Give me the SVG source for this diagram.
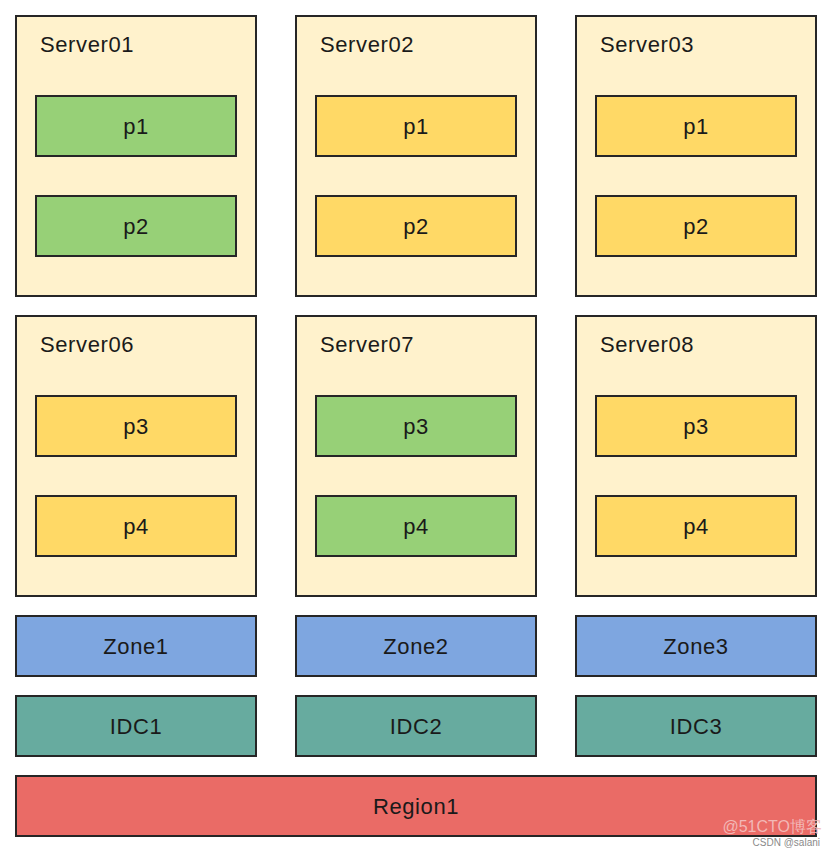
<svg xmlns="http://www.w3.org/2000/svg" width="834" height="854" viewBox="0 0 834 854">
<style>
rect{stroke:#262626;stroke-width:2}
.srv{fill:#fff2cc}
.g{fill:#97d077}
.y{fill:#ffd966}
.z{fill:#7ea6e0}
.i{fill:#67ab9f}
.r{fill:#ea6b66}
text{font-family:"Liberation Sans",Arial,sans-serif;font-size:22px;letter-spacing:0.6px;fill:#1a1a1a}
.c{text-anchor:middle;dominant-baseline:central}
.wm{text-anchor:end;letter-spacing:0}
</style>
<rect x="0" y="0" width="834" height="854" fill="#ffffff" style="stroke:none"/>
<g id="server01"><rect class="srv" x="16" y="16" width="240" height="280"/><text x="40" y="52">Server01</text>
<g id="s01p1"><rect class="g" x="36" y="96" width="200" height="60"/><text class="c" x="136" y="126">p1</text></g>
<g id="s01p2"><rect class="g" x="36" y="196" width="200" height="60"/><text class="c" x="136" y="226">p2</text></g></g>
<g id="server02"><rect class="srv" x="296" y="16" width="240" height="280"/><text x="320" y="52">Server02</text>
<g id="s02p1"><rect class="y" x="316" y="96" width="200" height="60"/><text class="c" x="416" y="126">p1</text></g>
<g id="s02p2"><rect class="y" x="316" y="196" width="200" height="60"/><text class="c" x="416" y="226">p2</text></g></g>
<g id="server03"><rect class="srv" x="576" y="16" width="240" height="280"/><text x="600" y="52">Server03</text>
<g id="s03p1"><rect class="y" x="596" y="96" width="200" height="60"/><text class="c" x="696" y="126">p1</text></g>
<g id="s03p2"><rect class="y" x="596" y="196" width="200" height="60"/><text class="c" x="696" y="226">p2</text></g></g>
<g id="server06"><rect class="srv" x="16" y="316" width="240" height="280"/><text x="40" y="352">Server06</text>
<g id="s06p3"><rect class="y" x="36" y="396" width="200" height="60"/><text class="c" x="136" y="426">p3</text></g>
<g id="s06p4"><rect class="y" x="36" y="496" width="200" height="60"/><text class="c" x="136" y="526">p4</text></g></g>
<g id="server07"><rect class="srv" x="296" y="316" width="240" height="280"/><text x="320" y="352">Server07</text>
<g id="s07p3"><rect class="g" x="316" y="396" width="200" height="60"/><text class="c" x="416" y="426">p3</text></g>
<g id="s07p4"><rect class="g" x="316" y="496" width="200" height="60"/><text class="c" x="416" y="526">p4</text></g></g>
<g id="server08"><rect class="srv" x="576" y="316" width="240" height="280"/><text x="600" y="352">Server08</text>
<g id="s08p3"><rect class="y" x="596" y="396" width="200" height="60"/><text class="c" x="696" y="426">p3</text></g>
<g id="s08p4"><rect class="y" x="596" y="496" width="200" height="60"/><text class="c" x="696" y="526">p4</text></g></g>
<g id="zone1"><rect class="z" x="16" y="616" width="240" height="60"/><text class="c" x="136" y="646">Zone1</text></g>
<g id="zone2"><rect class="z" x="296" y="616" width="240" height="60"/><text class="c" x="416" y="646">Zone2</text></g>
<g id="zone3"><rect class="z" x="576" y="616" width="240" height="60"/><text class="c" x="696" y="646">Zone3</text></g>
<g id="idc1"><rect class="i" x="16" y="696" width="240" height="60"/><text class="c" x="136" y="726">IDC1</text></g>
<g id="idc2"><rect class="i" x="296" y="696" width="240" height="60"/><text class="c" x="416" y="726">IDC2</text></g>
<g id="idc3"><rect class="i" x="576" y="696" width="240" height="60"/><text class="c" x="696" y="726">IDC3</text></g>
<g id="region1"><rect class="r" x="16" y="776" width="800" height="60"/><text class="c" x="416" y="806">Region1</text></g>
<g id="connectors"></g>
<g id="watermark"><text class="wm" x="822" y="832" style="font-size:16px;fill:#f2b8b6">@51CTO博客</text><text class="wm" x="820" y="846" style="font-size:10px;fill:#8a8a8a">CSDN @salani</text></g>
</svg>
